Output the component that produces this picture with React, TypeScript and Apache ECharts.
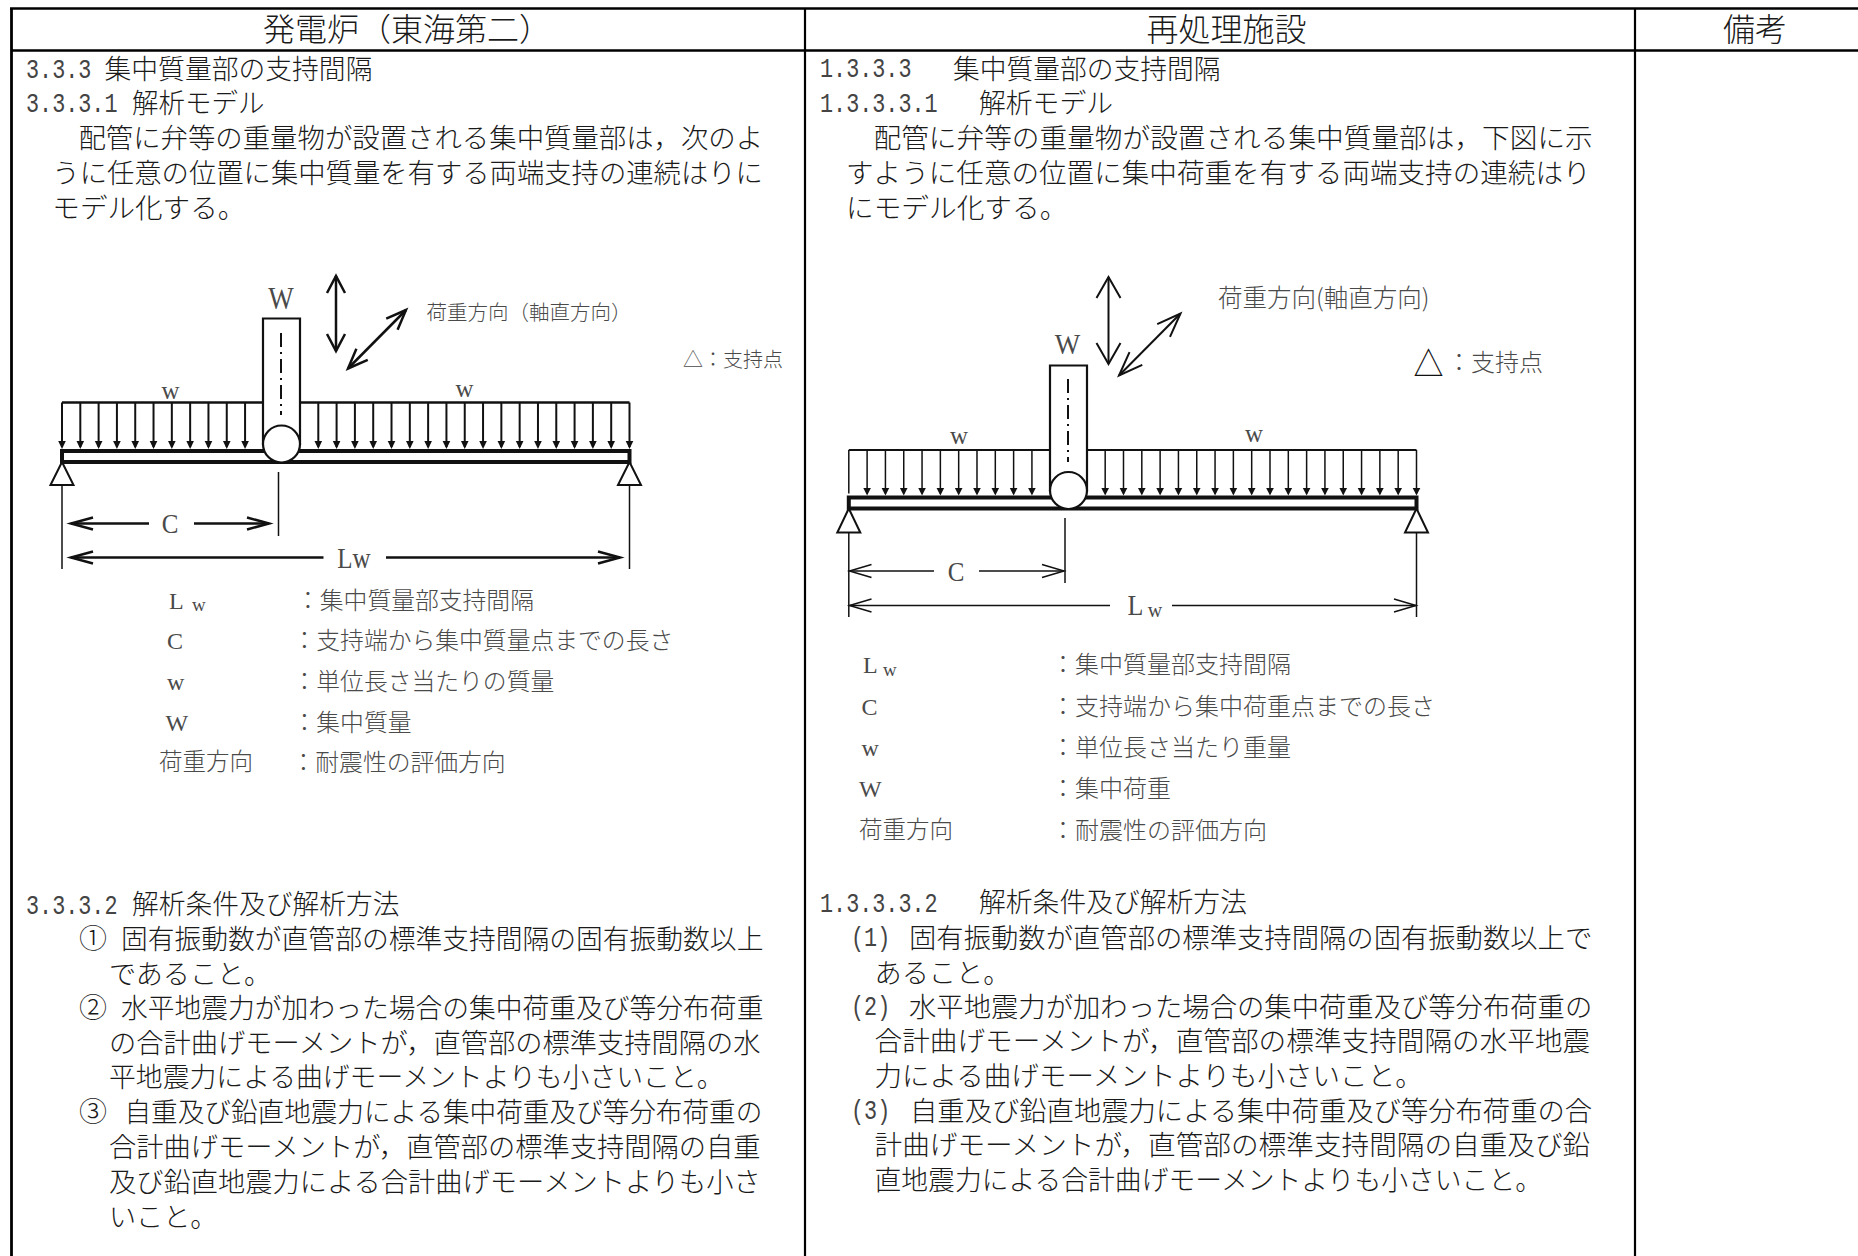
import React, { useEffect, useRef } from "react";
import * as echarts from "echarts";

const headerTitles = ["発電炉（東海第二）", "再処理施設", "備考"];

const leftNumbers = ["3.3.3", "3.3.3.1", "3.3.3.2"];
const leftHeadings = ["集中質量部の支持間隔", "解析モデル", "解析条件及び解析方法"];
const leftIntro = [
  "配管に弁等の重量物が設置される集中質量部は，次のよ",
  "うに任意の位置に集中質量を有する両端支持の連続はりに",
  "モデル化する。",
];
const leftMarks = ["①", "②", "③"];
const leftConditions = [
  "固有振動数が直管部の標準支持間隔の固有振動数以上",
  "であること。",
  "水平地震力が加わった場合の集中荷重及び等分布荷重",
  "の合計曲げモーメントが，直管部の標準支持間隔の水",
  "平地震力による曲げモーメントよりも小さいこと。",
  "自重及び鉛直地震力による集中荷重及び等分布荷重の",
  "合計曲げモーメントが，直管部の標準支持間隔の自重",
  "及び鉛直地震力による合計曲げモーメントよりも小さ",
  "いこと。",
];
const leftLegendKeys = ["C", "w", "W", "荷重方向"];
const leftLegendValues = [
  "：集中質量部支持間隔",
  "：支持端から集中質量点までの長さ",
  "：単位長さ当たりの質量",
  "：集中質量",
  "：耐震性の評価方向",
];

const rightNumbers = ["1.3.3.3", "1.3.3.3.1", "1.3.3.3.2"];
const rightHeadings = ["集中質量部の支持間隔", "解析モデル", "解析条件及び解析方法"];
const rightIntro = [
  "配管に弁等の重量物が設置される集中質量部は，下図に示",
  "すように任意の位置に集中荷重を有する両端支持の連続はり",
  "にモデル化する。",
];
const rightMarks = ["(1)", "(2)", "(3)"];
const rightConditions = [
  "固有振動数が直管部の標準支持間隔の固有振動数以上で",
  "あること。",
  "水平地震力が加わった場合の集中荷重及び等分布荷重の",
  "合計曲げモーメントが，直管部の標準支持間隔の水平地震",
  "力による曲げモーメントよりも小さいこと。",
  "自重及び鉛直地震力による集中荷重及び等分布荷重の合",
  "計曲げモーメントが，直管部の標準支持間隔の自重及び鉛",
  "直地震力による合計曲げモーメントよりも小さいこと。",
];
const rightLegendKeys = ["C", "w", "W", "荷重方向"];
const rightLegendValues = [
  "：集中質量部支持間隔",
  "：支持端から集中荷重点までの長さ",
  "：単位長さ当たり重量",
  "：集中荷重",
  "：耐震性の評価方向",
];

const loadLabels = { left: "荷重方向（軸直方向）", right: "荷重方向(軸直方向)" };
const supportLabel = "：支持点";

// ---------- layout (positions only) ----------
const SANS = '"Noto Sans CJK JP"';
const SERIF = '"Liberation Serif"';
const MONO = '"Liberation Mono"';
const INK = "#1a1a1a";
const GREY = "#4a4a4a";

type El = any;
const els: El[] = [];

function line(x1: number, y1: number, x2: number, y2: number, w = 2, stroke = "#111", dash?: number[]) {
  els.push({
    type: "line", silent: true,
    shape: { x1, y1, x2, y2 },
    style: { stroke, lineWidth: w, lineDash: dash, fill: null },
  });
}
function txt(text: string, x: number, y: number, size: number, o: any = {}) {
  const family = o.family ?? SANS;
  const yy = family === SANS ? y - size * 0.09 : y;
  els.push({
    type: "text", silent: true, x, y: yy,
    scaleX: o.scaleX ?? 1, scaleY: o.scaleY ?? 1,
    style: {
      text, fontSize: size, fontFamily: family, fontWeight: o.weight ?? 300,
      fill: o.fill ?? INK, align: o.align ?? "left", verticalAlign: "middle",
    },
  });
}
// one line of justified text running from x0 to x1 (the cell edges)
function fit(text: string, x0: number, x1: number, y: number, size = 27) {
  const n = Array.from(text).length;
  txt(text, x0 - 1, y + 1, size, { scaleX: (x1 - x0 + 2.5) / (n * size) });
}
function num(text: string, x: number, y: number) {
  txt(text, x, y, 21.8, { family: MONO, scaleY: 1.25, fill: "#444" });
}
function openHead(tx: number, ty: number, fx: number, fy: number, len: number, half: number, w: number, stroke: string) {
  const d = Math.hypot(tx - fx, ty - fy);
  const ux = (tx - fx) / d, uy = (ty - fy) / d;
  const bx = tx - ux * len, by = ty - uy * len;
  els.push({
    type: "polyline", silent: true,
    shape: { points: [[bx - uy * half, by + ux * half], [tx, ty], [bx + uy * half, by - ux * half]] },
    style: { stroke, lineWidth: w, fill: null },
  });
}
function arrow2(x1: number, y1: number, x2: number, y2: number, len: number, half: number, w: number, stroke = "#111") {
  line(x1, y1, x2, y2, w, stroke);
  openHead(x1, y1, x2, y2, len, half, w, stroke);
  openHead(x2, y2, x1, y1, len, half, w, stroke);
}

type Geo = {
  x0: number; x1: number; topY: number; beamT: number; beamB: number; tipY: number; headY: number;
  pipeL: number; pipeR: number; pipeT: number; cx: number; cy: number; clX: number; clT: number; clB: number;
  baseY: number; dimB: number; midX: number; midT: number; midB: number;
  cY: number; cL: number; cR1: number; cR0: number; cL1: number; lY: number; lL1: number; lR0: number; lR1: number;
  beamW: number; dimW: number; headLen: number; headHalf: number; firstHead: boolean; loadW: number;
};

function beam(g: Geo) {
  const step = (g.x1 - g.x0) / 31;
  line(g.x0, g.topY, g.x1, g.topY, g.loadW + 0.5);
  for (let i = 0; i < 32; i++) {
    if (i >= 11 && i <= 13) continue;
    const x = g.x0 + i * step;
    line(x, g.topY, x, g.tipY - 2, g.loadW);
    if (i === 0 && !g.firstHead) continue;
    els.push({
      type: "polygon", silent: true,
      shape: { points: [[x - 3.8, g.headY], [x + 3.8, g.headY], [x, g.tipY]] },
      style: { fill: "#111" },
    });
  }
  els.push({
    type: "rect", silent: true,
    shape: { x: g.x0, y: g.beamT, width: g.x1 - g.x0, height: g.beamB - g.beamT },
    style: { fill: "#fff", stroke: "#111", lineWidth: g.beamW },
  });
  els.push({
    type: "rect", silent: true,
    shape: { x: g.pipeL, y: g.pipeT, width: g.pipeR - g.pipeL, height: g.cy - g.pipeT },
    style: { fill: "#fff", stroke: "#111", lineWidth: 2.2 },
  });
  els.push({
    type: "ellipse", silent: true,
    shape: { cx: g.cx, cy: g.cy, rx: g.pipeR - g.cx, ry: 18.5 },
    style: { fill: "#fff", stroke: "#111", lineWidth: 2.2 },
  });
  line(g.clX, g.clT, g.clX, g.clB, 2, "#111", [14, 5, 2, 5]);
  for (const x of [g.x0, g.x1]) {
    els.push({
      type: "polygon", silent: true,
      shape: { points: [[x, g.beamB], [x - 11.5, g.baseY], [x + 11.5, g.baseY]] },
      style: { fill: "#fff", stroke: "#111", lineWidth: 2 },
    });
    line(x, g.baseY, x, g.dimB, 1.5);
  }
  line(g.midX, g.midT, g.midX, g.midB, 1.5);
  line(g.cL, g.cY, g.cL1, g.cY, g.dimW);
  openHead(g.cL, g.cY, g.cL1, g.cY, g.headLen, g.headHalf, g.dimW, "#111");
  line(g.cR0, g.cY, g.cR1, g.cY, g.dimW);
  openHead(g.cR1, g.cY, g.cR0, g.cY, g.headLen, g.headHalf, g.dimW, "#111");
  line(g.cL, g.lY, g.lL1, g.lY, g.dimW);
  openHead(g.cL, g.lY, g.lL1, g.lY, g.headLen, g.headHalf, g.dimW, "#111");
  line(g.lR0, g.lY, g.lR1, g.lY, g.dimW);
  openHead(g.lR1, g.lY, g.lR0, g.lY, g.headLen, g.headHalf, g.dimW, "#111");
}

function buildElements() {
  els.length = 0;
  // ---- table rules ----
  line(10, 8.5, 1858, 8.5, 2.5, "#000");
  line(11, 50.5, 1858, 50.5, 2.5, "#000");
  line(11.5, 8, 11.5, 1256, 2.8, "#000");
  line(805, 8, 805, 1256, 2.2, "#000");
  line(1635, 8, 1635, 1256, 2.2, "#000");

  // ---- header ----
  txt(headerTitles[0], 263, 30, 32);
  txt(headerTitles[1], 1226.5, 30, 32, { align: "center" });
  txt(headerTitles[2], 1755, 30, 32, { align: "center" });

  // ---- left column ----
  const numL = 26, numR = 820;
  const headY = [69, 103, 904];
  const numY = [70, 104, 906];
  const lHeadX = [[105.5, 371], [133, 263], [133, 398]];
  leftNumbers.forEach((t, i) => {
    num(t, numL, numY[i]);
    fit(leftHeadings[i], lHeadX[i][0], lHeadX[i][1], headY[i]);
  });
  const lIntroPos = [[79.4, 762, 137.5], [53.3, 762, 172.5], [53.3, 244, 208]];
  leftIntro.forEach((t, i) => fit(t, lIntroPos[i][0], lIntroPos[i][1], lIntroPos[i][2]));

  const lCondPos = [
    [122, 762, 939], [110, 270, 974], [122, 762, 1008], [110, 762, 1042.5], [110, 725, 1077],
    [125.5, 762, 1112], [110, 762, 1147], [110, 762, 1181.5], [110, 216, 1216.5],
  ];
  leftConditions.forEach((t, i) => fit(t, lCondPos[i][0], lCondPos[i][1], lCondPos[i][2]));
  const lMarkY = [940, 1009, 1113];
  leftMarks.forEach((t, i) => txt(t, 79, lMarkY[i], 28));

  // ---- left diagram ----
  beam({
    x0: 62, x1: 629.5, topY: 402.5, beamT: 451, beamB: 462, tipY: 449, headY: 441,
    pipeL: 263, pipeR: 300, pipeT: 318.5, cx: 281.5, cy: 444, clX: 281, clT: 333, clB: 415,
    baseY: 485, dimB: 569, midX: 278.5, midT: 472, midB: 536,
    cY: 523.5, cL: 71, cL1: 149, cR0: 194, cR1: 269, lY: 557.5, lL1: 323.5, lR0: 386, lR1: 620,
    beamW: 4, dimW: 2.5, headLen: 22, headHalf: 6, firstHead: true, loadW: 2,
  });
  arrow2(336, 276, 336, 351, 17, 9, 2.5);
  arrow2(348, 368.5, 406, 310, 20, 8, 2.5);
  txt("W", 281, 298, 27, { family: SERIF, align: "center", fill: GREY, weight: 400, scaleY: 1.15 });
  txt("w", 170.5, 390, 25, { family: SERIF, align: "center", fill: GREY, weight: 400 });
  txt("w", 464.5, 388, 25, { family: SERIF, align: "center", fill: GREY, weight: 400 });
  txt("C", 170, 524, 25, { family: SERIF, align: "center", fill: GREY, weight: 400, scaleY: 1.1 });
  txt("Lw", 354, 558, 25, { family: SERIF, align: "center", fill: GREY, weight: 400, scaleY: 1.2 });
  txt(loadLabels.left, 426.5, 312.5, 20.5, { fill: GREY });
  txt("△", 683, 360, 20, { fill: GREY });
  txt(supportLabel, 703, 360, 20, { fill: GREY });

  const lLegY = [600.5, 641, 682, 723, 762.5];
  txt("L", 169, lLegY[0], 24, { family: SERIF, fill: GREY, weight: 400 });
  txt("w", 192, lLegY[0] + 4, 19, { family: SERIF, fill: GREY, weight: 400 });
  const lKeyX = [167, 167, 165.5, 159];
  leftLegendKeys.forEach((t, i) =>
    txt(t, lKeyX[i], lLegY[i + 1], t.length > 1 ? 23.5 : 24, { family: t.length > 1 ? SANS : SERIF, fill: GREY, weight: t.length > 1 ? 300 : 400 })
  );
  const lValX = [296, 292.5, 292.5, 292.5, 291.5];
  leftLegendValues.forEach((t, i) => txt(t, lValX[i], lLegY[i], 23.8, { fill: GREY }));

  // ---- right column ----
  const rHeadY = [68.5, 103, 902];
  const rNumY = [69.5, 104, 904];
  const rHeadX = [[954, 1219], [980, 1111.5], [980, 1245.5]];
  rightNumbers.forEach((t, i) => {
    num(t, numR, rNumY[i]);
    fit(rightHeadings[i], rHeadX[i][0], rHeadX[i][1], rHeadY[i]);
  });
  const rIntroPos = [[874.5, 1591.5, 137.5], [847, 1589.5, 172.5], [847, 1066, 207.5]];
  rightIntro.forEach((t, i) => fit(t, rIntroPos[i][0], rIntroPos[i][1], rIntroPos[i][2]));

  const rCondPos = [
    [910, 1591.5, 937.5], [875.5, 1009, 972.5], [910, 1591.5, 1006.5], [875.5, 1591.5, 1041], [875.5, 1424, 1075.5],
    [911, 1591.5, 1110.5], [875.5, 1591.5, 1145], [875.5, 1543, 1179.5],
  ];
  rightConditions.forEach((t, i) => fit(t, rCondPos[i][0], rCondPos[i][1], rCondPos[i][2]));
  const rMarkY = [938.5, 1007.5, 1111.5];
  rightMarks.forEach((t, i) => num(t, 851, rMarkY[i]));

  // ---- right diagram ----
  beam({
    x0: 848.8, x1: 1416.5, topY: 450, beamT: 497.5, beamB: 508.5, tipY: 495.5, headY: 488,
    pipeL: 1050, pipeR: 1087, pipeT: 365.5, cx: 1068.5, cy: 490.5, clX: 1068, clT: 379, clB: 462,
    baseY: 532.5, dimB: 617, midX: 1065, midT: 518, midB: 583,
    cY: 571, cL: 849.5, cL1: 934, cR0: 979, cR1: 1064, lY: 605.5, lL1: 1110, lR0: 1172, lR1: 1416,
    beamW: 4, dimW: 1.5, headLen: 22, headHalf: 6.5, firstHead: false, loadW: 1.5,
  });
  arrow2(1108.5, 277, 1108.5, 364, 21, 12, 2);
  arrow2(1119, 375.5, 1180.5, 313.5, 24, 9, 2);
  txt("W", 1067.5, 344.5, 27, { family: SERIF, align: "center", fill: GREY, weight: 400, scaleY: 1.1 });
  txt("w", 959, 435.5, 25, { family: SERIF, align: "center", fill: GREY, weight: 400 });
  txt("w", 1254, 433, 25, { family: SERIF, align: "center", fill: GREY, weight: 400 });
  txt("C", 956, 572, 25, { family: SERIF, align: "center", fill: GREY, weight: 400, scaleY: 1.1 });
  txt("L", 1135.5, 606, 26, { family: SERIF, align: "center", fill: GREY, weight: 400, scaleY: 1.1 });
  txt("w", 1155, 610, 20, { family: SERIF, align: "center", fill: GREY, weight: 400 });
  txt(loadLabels.right, 1218, 298.5, 24.5, { fill: GREY });
  txt("△", 1413.5, 364.5, 30, { fill: "#111", scaleY: 1.1, weight: 400 });
  txt(supportLabel, 1447, 363, 24, { fill: GREY });

  const rLegY = [665, 706.5, 748, 789, 830.5];
  txt("L", 863, rLegY[0], 24, { family: SERIF, fill: GREY, weight: 400 });
  txt("w", 883, rLegY[0] + 4, 19, { family: SERIF, fill: GREY, weight: 400 });
  const rKeyX = [861.5, 861.5, 859, 859];
  rightLegendKeys.forEach((t, i) =>
    txt(t, rKeyX[i], rLegY[i + 1], t.length > 1 ? 23.5 : 24, { family: t.length > 1 ? SANS : SERIF, fill: GREY, weight: t.length > 1 ? 300 : 400 })
  );
  rightLegendValues.forEach((t, i) => txt(t, 1051, rLegY[i], 24, { fill: GREY }));

  return els.slice();
}

export default function App() {
  const ref = useRef<HTMLDivElement>(null);
  useEffect(() => {
    document.body.style.margin = "0";
    document.body.style.background = "#fff";
    const chart = echarts.init(ref.current!, null, { renderer: "svg" });
    chart.setOption({
      animation: false,
      backgroundColor: "#fff",
      graphic: { elements: buildElements() },
    });
    return () => chart.dispose();
  }, []);
  return <div ref={ref} style={{ width: 1858, height: 1256, overflow: "hidden" }} />;
}
